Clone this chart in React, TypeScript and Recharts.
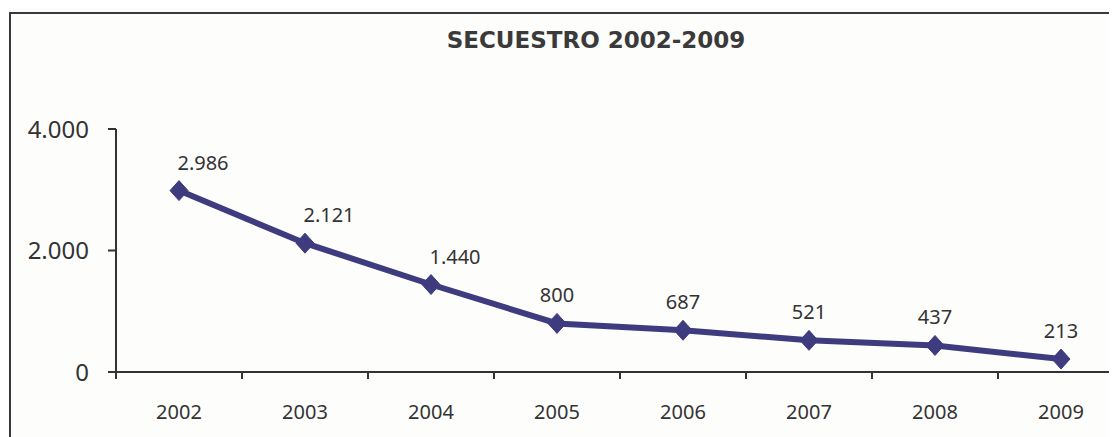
import { LineChart, Line, XAxis, YAxis, LabelList } from 'recharts';

const years = ['2002', '2003', '2004', '2005', '2006', '2007', '2008', '2009'];
const secuestros = [2986, 2121, 1440, 800, 687, 521, 437, 213];
const yTicks = [0, 2000, 4000];

const data = years.map((year, i) => ({ x: i, year, value: secuestros[i] }));

// ticks at the category centers (labels) and at the boundaries (tick marks)
const xTicks: number[] = [];
for (let i = 0; i <= years.length; i++) {
    xTicks.push(i - 0.5);
    if (i < years.length) xTicks.push(i);
}

const navy = '#3e3c7e';
const textColor = '#333333';
const font = '"Noto Sans", sans-serif';
const titleFont = '"DejaVu Sans", Verdana, sans-serif';

const fmt = (v: number) => String(v).replace(/\B(?=(\d{3})+(?!\d))/g, '.');

const XTick = (props: any) => {
    const { x, y, payload } = props;
    const v = payload.value as number;
    if (Number.isInteger(v)) {
        return (
            <text x={x} y={y + 47} textAnchor="middle" fontSize={20} fill={textColor} fontFamily={font}>
                {years[v]}
            </text>
        );
    }
    return <line x1={x} x2={x} y1={y} y2={y + 7} stroke="#333" strokeWidth={2} />;
};

const Diamond = (props: any) => {
    const { cx, cy } = props;
    if (cx == null || cy == null) return null;
    return (
        <polygon
            points={`${cx},${cy - 10} ${cx + 9},${cy} ${cx},${cy + 10} ${cx - 9},${cy}`}
            fill={navy}
            stroke={navy}
        />
    );
};

const ValueLabel = (props: any) => {
    const { x, y, value, index } = props;
    const next = secuestros[index + 1];
    const dx = next !== undefined && value - next > 500 ? 24 : 0;
    return (
        <text x={x + dx} y={y - 21} textAnchor="middle" fontSize={20} fill={textColor} fontFamily={font}>
            {fmt(value)}
        </text>
    );
};

export default function App() {
    return (
        <div style={{ position: 'relative', width: 1109, height: 429, overflow: 'hidden', background: '#fdfdfc' }}>
            <div
                style={{
                    position: 'absolute',
                    left: 1,
                    top: 4,
                    width: 1200,
                    height: 600,
                    border: '2px solid #3a3a3a',
                }}
            />
            <div
                style={{
                    position: 'absolute',
                    left: 388,
                    top: 21,
                    width: 400,
                    textAlign: 'center',
                    fontFamily: titleFont,
                    fontWeight: 'bold',
                    fontSize: 23,
                    lineHeight: '23px',
                    color: '#3a3a3a',
                }}
            >
                SECUESTRO 2002-2009
            </div>
            <div style={{ position: 'absolute', left: 0, top: 0 }}>
                <LineChart width={1126} height={429} data={data} margin={{ top: 121, right: 10, left: 0, bottom: 5 }}>
                    <XAxis
                        dataKey="x"
                        type="number"
                        domain={[-0.5, years.length - 0.5]}
                        ticks={xTicks}
                        interval={0}
                        tick={<XTick />}
                        tickLine={false}
                        tickSize={0}
                        tickMargin={0}
                        axisLine={{ stroke: '#333', strokeWidth: 2 }}
                        height={60}
                    />
                    <YAxis
                        type="number"
                        domain={[0, 4000]}
                        ticks={yTicks}
                        width={108}
                        tickSize={8}
                        tickMargin={19}
                        tickFormatter={fmt}
                        tick={{ fontSize: 24, fill: textColor, fontFamily: font }}
                        tickLine={{ stroke: '#333', strokeWidth: 2 }}
                        axisLine={{ stroke: '#333', strokeWidth: 2 }}
                    />
                    <Line
                        type="linear"
                        dataKey="value"
                        stroke={navy}
                        strokeWidth={6}
                        dot={<Diamond />}
                        activeDot={false}
                        isAnimationActive={false}
                    >
                        <LabelList dataKey="value" content={<ValueLabel />} />
                    </Line>
                </LineChart>
            </div>
        </div>
    );
}
